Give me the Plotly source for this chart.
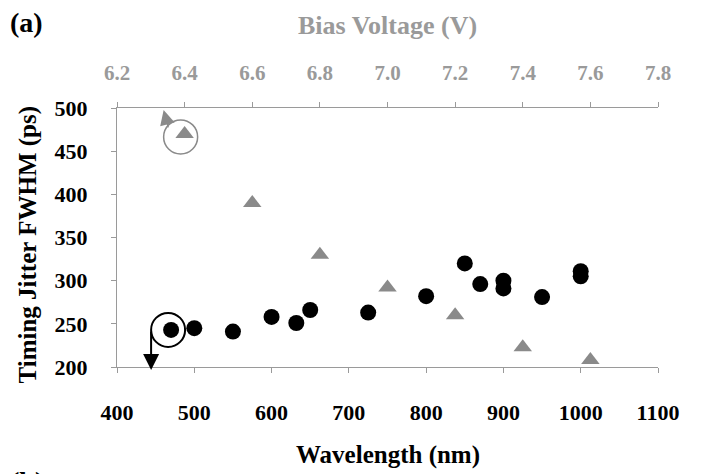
import plotly.graph_objects as go

# ---- data ----
wavelength_nm = [470, 500, 550, 600, 632, 650, 725, 800, 850, 870, 900, 900, 950, 1000, 1000]
jitter_vs_wavelength = [243, 245, 241, 258, 251, 266, 263, 282, 320, 296, 300, 291, 281, 311, 305]

bias_voltage = [6.4, 6.6, 6.8, 7.0, 7.2, 7.4, 7.6]
jitter_vs_bias = [470, 390, 330, 292, 260, 223, 208]

x_ticks = [400, 500, 600, 700, 800, 900, 1000, 1100]
y_ticks = [200, 250, 300, 350, 400, 450, 500]
x2_ticks = [6.2, 6.4, 6.6, 6.8, 7.0, 7.2, 7.4, 7.6, 7.8]

SERIF = "Liberation Serif, Times New Roman, serif"
AXIS_GREY = "#9a9a9a"
TRI_GREY = "#8a8a8a"

fig = go.Figure()

fig.add_trace(go.Scatter(
    x=wavelength_nm, y=jitter_vs_wavelength, mode="markers",
    marker=dict(symbol="circle", size=16, color="black"),
    xaxis="x", yaxis="y", cliponaxis=False, showlegend=False))

fig.add_trace(go.Scatter(
    x=bias_voltage, y=jitter_vs_bias, mode="markers",
    marker=dict(symbol="triangle-up", size=16, color=TRI_GREY),
    xaxis="x2", yaxis="y", cliponaxis=False, showlegend=False))

axis_common = dict(showline=True, linecolor=AXIS_GREY, linewidth=1,
                   ticks="outside", ticklen=5, tickcolor=AXIS_GREY, tickwidth=1,
                   showgrid=False, zeroline=False, automargin=False)

fig.update_layout(
    width=697, height=466,
    margin=dict(l=109, r=47, t=100, b=107),
    paper_bgcolor="white", plot_bgcolor="white",
    xaxis=dict(range=[400, 1100], tickvals=x_ticks,
               ticktext=[f"<b>{v}</b>" for v in x_ticks], ticklabelstandoff=21,
               tickfont=dict(family=SERIF, size=22, color="black"),
               **axis_common),
    yaxis=dict(range=[200, 500], tickvals=y_ticks,
               ticktext=[f"<b>{v}</b>" for v in y_ticks], ticklabelstandoff=19,
               tickfont=dict(family=SERIF, size=22, color="black"),
               **axis_common),
    xaxis2=dict(range=[6.2, 7.8], tickvals=x2_ticks,
                ticktext=[f"<b>{v:.1f}</b>" for v in x2_ticks],
                overlaying="x", side="top", ticklabelstandoff=14,
                tickfont=dict(family=SERIF, size=21, color=AXIS_GREY),
                **axis_common),
)

# axis titles and panel labels
fig.add_annotation(text="<b>Wavelength (nm)</b>", xref="paper", yref="paper", x=0.5, y=0,
                   xanchor="center", yanchor="middle", yshift=-88, showarrow=False,
                   font=dict(family=SERIF, size=25, color="black"))
fig.add_annotation(text="<b>Bias Voltage (V)</b>", xref="paper", yref="paper", x=0.5, y=1,
                   xanchor="center", yanchor="middle", yshift=83, showarrow=False,
                   font=dict(family=SERIF, size=26, color=AXIS_GREY))
fig.add_annotation(text="<b>Timing Jitter FWHM (ps)</b>", xref="paper", yref="paper", x=0, y=0.5,
                   xanchor="center", yanchor="middle", xshift=-90, yshift=-7,
                   textangle=-90, showarrow=False,
                   font=dict(family=SERIF, size=25, color="black"))
fig.add_annotation(text="<b>(a)</b>", xref="paper", yref="paper", x=0, y=1,
                   xanchor="left", yanchor="middle", xshift=-109, yshift=86, showarrow=False,
                   font=dict(family=SERIF, size=28, color="black"))
fig.add_annotation(text="<b>(b)</b>", xref="paper", yref="paper", x=0, y=0,
                   xanchor="left", yanchor="top", xshift=-109, yshift=-97, showarrow=False,
                   font=dict(family=SERIF, size=28, color="black"))

# highlight circle + arrow for the first wavelength point (belongs to bottom axis)
fig.add_shape(type="circle", xref="x", yref="y", xsizemode="pixel", ysizemode="pixel",
              xanchor=wavelength_nm[0], yanchor=jitter_vs_wavelength[0],
              x0=-20, x1=14, y0=-17, y1=17,
              line=dict(color="black", width=2), fillcolor="rgba(0,0,0,0)")
fig.add_annotation(x=wavelength_nm[0], y=jitter_vs_wavelength[0], xref="x", yref="y",
                   xshift=-20, yshift=-40, ax=0, ay=-40, text="", showarrow=True,
                   arrowhead=2, arrowsize=1.6, arrowwidth=2, arrowcolor="black")

# highlight circle + arrow for the first bias point (belongs to top axis)
fig.add_shape(type="circle", xref="x2", yref="y", xsizemode="pixel", ysizemode="pixel",
              xanchor=bias_voltage[0], yanchor=jitter_vs_bias[0],
              x0=-21, x1=13, y0=-20, y1=14,
              line=dict(color=TRI_GREY, width=1.5), fillcolor="rgba(0,0,0,0)")
fig.add_annotation(x=bias_voltage[0], y=jitter_vs_bias[0], xref="x2", yref="y",
                   xshift=-21, yshift=24, ax=5, ay=19, text="", showarrow=True,
                   arrowhead=2, arrowsize=2, arrowwidth=1.5, arrowcolor=TRI_GREY)

fig.write_html("out.html")
